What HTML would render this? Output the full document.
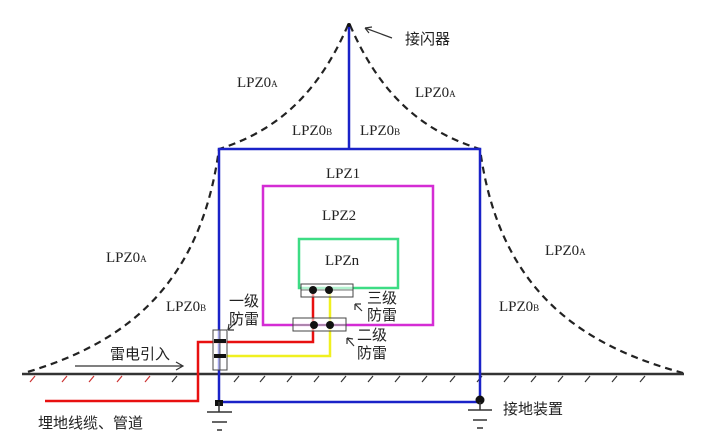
<!DOCTYPE html>
<html><head><meta charset="utf-8"><style>
html,body{margin:0;padding:0;background:#fff;}
svg{display:block;}
.t{font-family:"Liberation Serif",serif;font-size:15px;fill:#222;}
.s{font-size:9px;}
.c{font-family:"Liberation Sans","Noto Sans CJK SC",sans-serif;font-size:15px;fill:#222;}
</style></head><body>
<svg width="706" height="447" viewBox="0 0 706 447" xmlns="http://www.w3.org/2000/svg">
<!-- dashed protection curves -->
<g fill="none" stroke="#222" stroke-width="2.2" stroke-dasharray="7,5">
<path d="M348,25 C320,90 280,130 219,149 C200,290 120,345 24,373"/>
<path d="M350,25 C378,90 418,130 480,149 C499,290 580,345 683,373"/>
</g>
<!-- ground line -->
<line x1="22" y1="374" x2="684" y2="374" stroke="#333" stroke-width="2.5"/>
<g stroke-width="1.2">
<g stroke="#c33"><line x1="30" y1="382" x2="35" y2="376"/><line x1="62" y1="382" x2="67" y2="376"/><line x1="89" y1="382" x2="94" y2="376"/><line x1="117" y1="382" x2="122" y2="376"/><line x1="145" y1="382" x2="150" y2="376"/></g>
<g stroke="#333"><line x1="172" y1="382" x2="177" y2="376"/><line x1="234" y1="382" x2="239" y2="376"/><line x1="260" y1="382" x2="265" y2="376"/><line x1="287" y1="382" x2="292" y2="376"/><line x1="314" y1="382" x2="319" y2="376"/><line x1="341" y1="382" x2="346" y2="376"/><line x1="368" y1="382" x2="373" y2="376"/><line x1="395" y1="382" x2="400" y2="376"/><line x1="422" y1="382" x2="427" y2="376"/><line x1="450" y1="382" x2="455" y2="376"/><line x1="477" y1="382" x2="482" y2="376"/><line x1="504" y1="382" x2="509" y2="376"/><line x1="531" y1="382" x2="536" y2="376"/><line x1="558" y1="382" x2="563" y2="376"/><line x1="585" y1="382" x2="590" y2="376"/><line x1="612" y1="382" x2="617" y2="376"/><line x1="640" y1="382" x2="645" y2="376"/></g>
</g>
<!-- blue structure -->
<g fill="none" stroke="#1a22c8" stroke-width="2.5">
<line x1="349" y1="25" x2="349" y2="149"/>
<path d="M219,402 L219,149 L480,149 L480,402 L219,402"/>
</g>
<!-- zones -->
<rect x="263" y="186" width="170" height="139" fill="none" stroke="#d42cd4" stroke-width="2.5"/>
<rect x="299" y="239" width="99" height="49" fill="none" stroke="#3ddc84" stroke-width="2.5"/>
<!-- wires -->
<polyline points="45,401 198,401 198,342 313,342 313,290" fill="none" stroke="#e81010" stroke-width="2.5"/>
<polyline points="222,356 330,356 330,290" fill="none" stroke="#f0f020" stroke-width="2.5"/>
<!-- SPD boxes -->
<g fill="#fff" fill-opacity="0.6" stroke="#444" stroke-width="1">
<rect x="213" y="330" width="14" height="40"/>
<rect x="301" y="284" width="52" height="13"/>
<rect x="293" y="318" width="53" height="13"/>
</g>
<g stroke="#444" stroke-width="0.8"><line x1="220" y1="330" x2="220" y2="370"/><line x1="301" y1="290" x2="353" y2="290"/><line x1="293" y1="325" x2="346" y2="325"/></g>
<g fill="#111"><rect x="214" y="339" width="12" height="4"/><rect x="214" y="354" width="12" height="4"/>
<circle cx="313" cy="290" r="4"/><circle cx="329" cy="290" r="4"/><circle cx="314" cy="325" r="4"/><circle cx="330" cy="325" r="4"/>
<circle cx="480" cy="400" r="4.5"/><rect x="215" y="400" width="8" height="6"/><circle cx="349" cy="25" r="2"/></g>
<!-- grounding symbols -->
<g stroke="#333" stroke-width="1.5">
<line x1="219" y1="402" x2="219" y2="412"/><line x1="207" y1="412" x2="232" y2="412"/><line x1="212" y1="422" x2="227" y2="422"/><line x1="217" y1="430" x2="222" y2="430"/>
<line x1="480" y1="402" x2="480" y2="410"/><line x1="468" y1="410" x2="492" y2="410"/><line x1="473" y1="420" x2="487" y2="420"/><line x1="477" y1="428" x2="483" y2="428"/>
</g>
<!-- arrows -->
<g stroke="#333" stroke-width="1.2" fill="none">
<path d="M392,38 L365,28 M365,28 L372,27 M365,28 L369,33"/>
<path d="M75,366 L183,366 M176,362 L183,366 L176,370"/>
<path d="M236,322 L228,330 M228,330 L229,324 M228,330 L234,330"/>
<path d="M362,311 L355,304 M355,304 L355,310 M355,304 L361,304"/>
<path d="M354,346 L347,338 M347,338 L347,344 M347,338 L353,339"/>
</g>
<!-- labels -->
<text class="c" x="405" y="44">接闪器</text>
<text class="t" x="237" y="87">LPZ0<tspan class="s">A</tspan></text>
<text class="t" x="415" y="97">LPZ0<tspan class="s">A</tspan></text>
<text class="t" x="106" y="262">LPZ0<tspan class="s">A</tspan></text>
<text class="t" x="545" y="255">LPZ0<tspan class="s">A</tspan></text>
<text class="t" x="292" y="135">LPZ0<tspan class="s">B</tspan></text>
<text class="t" x="360" y="135">LPZ0<tspan class="s">B</tspan></text>
<text class="t" x="166" y="311">LPZ0<tspan class="s">B</tspan></text>
<text class="t" x="499" y="311">LPZ0<tspan class="s">B</tspan></text>
<text class="t" x="326" y="178">LPZ1</text>
<text class="t" x="322" y="220">LPZ2</text>
<text class="t" x="325" y="265">LPZn</text>
<text class="c" x="229" y="306">一级</text>
<text class="c" x="229" y="324">防雷</text>
<text class="c" x="367" y="303">三级</text>
<text class="c" x="367" y="320">防雷</text>
<text class="c" x="357" y="340">二级</text>
<text class="c" x="357" y="358">防雷</text>
<text class="c" x="110" y="359">雷电引入</text>
<text class="c" x="503" y="414">接地装置</text>
<text class="c" x="38" y="428">埋地线缆、管道</text>
</svg>
</body></html>
